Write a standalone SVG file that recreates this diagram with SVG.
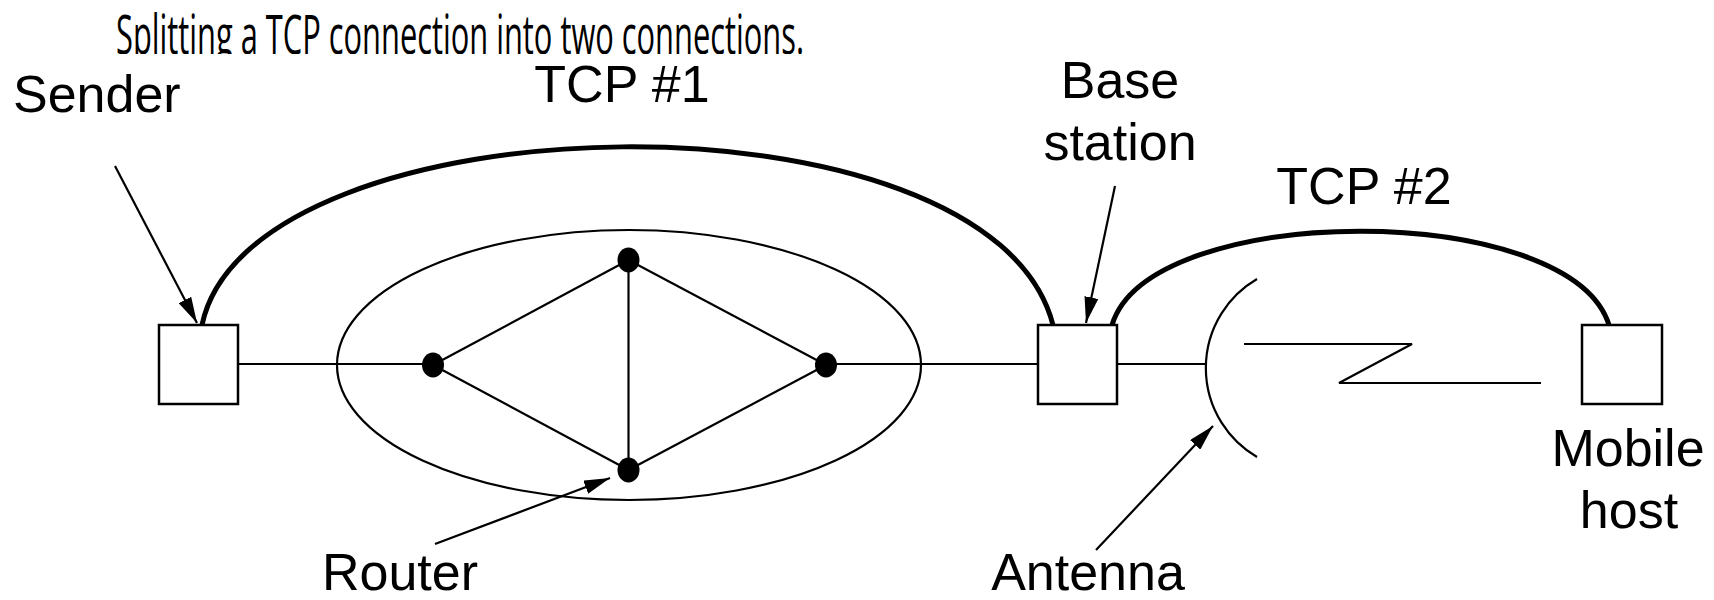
<svg xmlns="http://www.w3.org/2000/svg" width="1714" height="600" viewBox="0 0 1714 600">
  <defs>
    <marker id="head" viewBox="0 0 26 14" refX="26" refY="7" markerWidth="26" markerHeight="14" markerUnits="userSpaceOnUse" orient="auto">
      <path d="M0,0 L26,7 L0,14 z" fill="#000"/>
    </marker>
    <clipPath id="titleClip">
      <rect x="0" y="0" width="1714" height="54"/>
    </clipPath>
  </defs>
  <style>
    .title { font-family: "Open Sans", "Liberation Sans", sans-serif; font-size: 34.5px; fill: #000; }
    .label { font-family: "Liberation Sans", Arial, sans-serif; font-size: 52px; fill: #000; }
    .box { fill: #fff; stroke: #000; stroke-width: 2.5; }
    .link { fill: none; stroke: #000; stroke-width: 2.2; }
    .tcp { fill: none; stroke: #000; stroke-width: 5; }
    .pointer { fill: none; stroke: #000; stroke-width: 2.2; }
    .router { fill: #000; }
  </style>

  <rect width="1714" height="600" fill="#fff"/>

  <!-- heading, stretched tall and cut off at the baseline -->
  <g id="title" clip-path="url(#titleClip)">
    <text class="title" transform="matrix(1 0 0 1.6 0 0)" x="116" y="33.75" textLength="688" lengthAdjust="spacingAndGlyphs">Splitting a TCP connection into two connections.</text>
  </g>

  <!-- wired links, radio hop, TCP spans and label pointers -->
  <g id="connectors">
    <line class="link" x1="238" y1="364" x2="433" y2="364"/>
    <line class="link" x1="826" y1="364" x2="1038" y2="364"/>
    <line class="link" x1="1117" y1="364" x2="1206" y2="364"/>
    <line class="link" x1="433" y1="365" x2="628.5" y2="260"/>
    <line class="link" x1="433" y1="365" x2="628.5" y2="470"/>
    <line class="link" x1="628.5" y1="260" x2="628.5" y2="470"/>
    <line class="link" x1="628.5" y1="260" x2="826" y2="365"/>
    <line class="link" x1="628.5" y1="470" x2="826" y2="365"/>
    <path class="link" d="M1244,344 H1412 L1339,383 H1541"/>
    <path class="tcp" d="M202,325 C250,95 990,80 1053,325"/>
    <path class="tcp" d="M1112,325 C1150,200 1570,200 1609,325"/>
    <line class="pointer" x1="115" y1="166" x2="197" y2="323" marker-end="url(#head)"/>
    <line class="pointer" x1="1115" y1="186" x2="1086" y2="323" marker-end="url(#head)"/>
    <line class="pointer" x1="435" y1="544" x2="610" y2="478" marker-end="url(#head)"/>
    <line class="pointer" x1="1096" y1="550" x2="1213" y2="426" marker-end="url(#head)"/>
  </g>

  <g id="network">
    <ellipse class="link" cx="629" cy="365" rx="292" ry="135"/>
  </g>

  <g id="router-left"><ellipse class="router" cx="433" cy="365" rx="11" ry="12.5"/></g>
  <g id="router-top"><ellipse class="router" cx="628.5" cy="260" rx="11" ry="12.5"/></g>
  <g id="router-right"><ellipse class="router" cx="826" cy="365" rx="11" ry="12.5"/></g>
  <g id="router-bottom"><ellipse class="router" cx="628.5" cy="470" rx="11" ry="12.5"/></g>

  <g id="sender">
    <rect class="box" x="159" y="325" width="79" height="79"/>
    <text class="label" x="13" y="112">Sender</text>
  </g>

  <g id="base-station">
    <rect class="box" x="1038" y="325" width="79" height="79"/>
    <text class="label" x="1120" y="98" text-anchor="middle">Base</text>
    <text class="label" x="1120" y="160" text-anchor="middle">station</text>
  </g>

  <g id="antenna">
    <path class="link" d="M1257,279 A103,103 0 0 0 1257,457"/>
    <text class="label" x="1088" y="590" text-anchor="middle">Antenna</text>
  </g>

  <g id="mobile-host">
    <rect class="box" x="1582" y="325" width="80" height="79"/>
    <text class="label" x="1628" y="466" text-anchor="middle">Mobile</text>
    <text class="label" x="1629" y="528" text-anchor="middle">host</text>
  </g>

  <g id="labels">
    <text class="label" x="622" y="102" text-anchor="middle">TCP #1</text>
    <text class="label" x="1364" y="204" text-anchor="middle">TCP #2</text>
    <text class="label" x="400" y="590" text-anchor="middle">Router</text>
  </g>
</svg>
